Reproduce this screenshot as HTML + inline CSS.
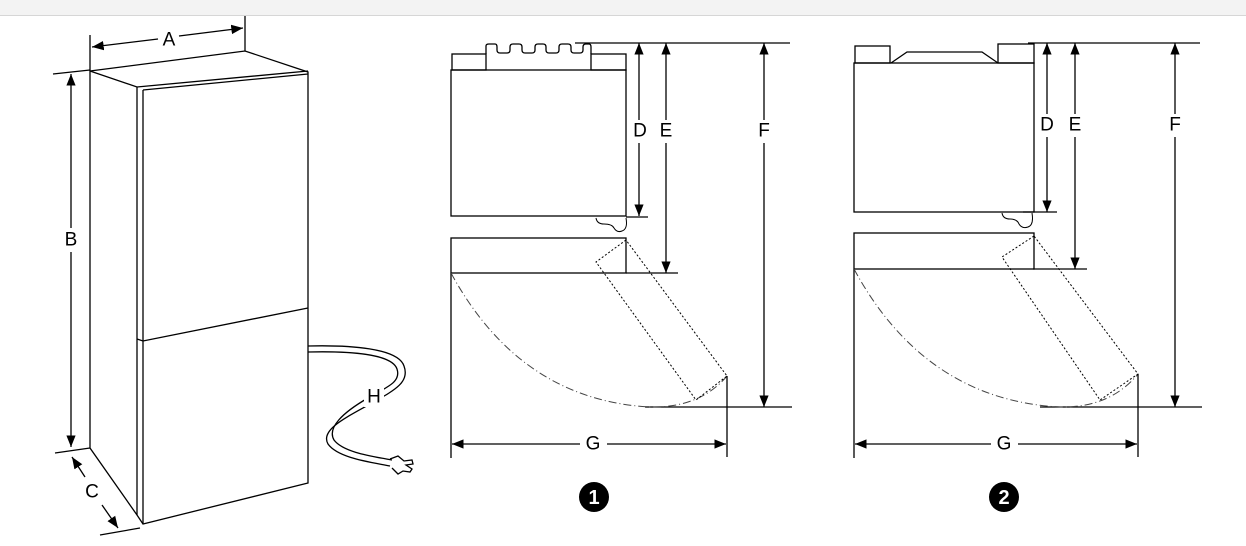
<!DOCTYPE html>
<html><head><style>
body{margin:0;background:#fff;width:1246px;height:546px;overflow:hidden}
svg{display:block}
text{font-family:"Liberation Sans",sans-serif;font-size:19px;fill:#000;text-anchor:middle;dominant-baseline:central}
</style></head><body>
<svg width="1246" height="546" viewBox="0 0 1246 546">
<defs>
<marker id="ar" viewBox="0 0 10 10" refX="10" refY="5" markerWidth="9" markerHeight="9" orient="auto-start-reverse"><path d="M0,1 L10,5 L0,9 Z" fill="#000"/></marker>
</defs>
<rect x="0" y="0" width="1246" height="15" fill="#f3f3f3"/>
<line x1="0" y1="15.5" x2="1246" y2="15.5" stroke="#d6d6d6"/>
<g stroke="#000" stroke-width="1.3" fill="none">
<!-- fridge -->
<path d="M90,71 L245,51 L308,72 L308,483 L143,524 L137,515 L90,448 Z" fill="#fff"/>
<path d="M90,71 L137,87 L308,71"/>
<path d="M143,90 L308,74"/>
<line x1="137" y1="87" x2="137" y2="515"/>
<line x1="143" y1="90" x2="143" y2="524"/>
<path d="M137,339 L143,341 L308,308"/>
<line x1="90" y1="35" x2="90" y2="71"/><line x1="245" y1="16" x2="245" y2="51"/>
<line x1="92" y1="47" x2="158" y2="39" marker-start="url(#ar)"/>
<line x1="179" y1="36" x2="243" y2="28" marker-end="url(#ar)"/>
<line x1="53" y1="74" x2="90" y2="70"/><line x1="55" y1="453" x2="90" y2="448"/>
<line x1="71" y1="74" x2="71" y2="228" marker-start="url(#ar)"/>
<line x1="71" y1="252" x2="71" y2="447" marker-end="url(#ar)"/>
<line x1="100" y1="535" x2="140" y2="528"/>
<line x1="85" y1="477" x2="72" y2="457" marker-end="url(#ar)"/>
<line x1="102" y1="505" x2="118" y2="528" marker-end="url(#ar)"/>
<!-- cord -->
<path d="M308,346 C350,345 398,348 404,366 C410,382 395,390 372,403 C345,418 320,430 328,444 C338,458 370,462 390,466"/>
<path d="M308,352 C350,351 392,354 397,369 C401,381 390,386 368,398 C342,413 327,428 334,440 C343,452 370,456 392,460"/>
<path d="M390,459 L398,456 L404,461 L412,460 L413,464 L406,465 L412,469 L410,472 L403,471 L398,474 L392,468"/>
<!-- diagram 1 -->
<rect x="451" y="70" width="175" height="146" fill="#fff"/>
<rect x="452" y="54" width="34" height="16"/><rect x="591" y="54" width="35" height="16"/>
<path d="M486,54 L486,46 Q486,44 489,44 L495,44 Q497,44 497,47 L497,50 Q497,53 500,53 L507,53 Q510,53 510,50 L510,47 Q510,44 513,44 L519,44 Q522,44 522,47 L522,50 Q522,53 525,53 L532,53 Q535,53 535,50 L535,47 Q535,44 538,44 L543,44 Q546,44 546,47 L546,50 Q546,53 549,53 L556,53 Q559,53 559,50 L559,47 Q559,44 562,44 L568,44 Q571,44 571,47 L571,50 Q571,53 574,53 L580,53 Q583,53 583,50 L583,47 Q583,44 586,44 L589,44 Q591,44 591,47 L591,54"/>
<path d="M596,218 Q597,224 604,224 Q612,224 614,228 Q617,233 622,231 Q628,229 626,218" stroke-width="1"/>
<line x1="575" y1="43" x2="790" y2="43"/>
<line x1="626" y1="217" x2="648" y2="217"/>
<line x1="626" y1="273" x2="678" y2="273"/>
<line x1="645" y1="407" x2="792" y2="407"/>
<line x1="639" y1="43" x2="639" y2="120" marker-start="url(#ar)"/><line x1="639" y1="143" x2="639" y2="216" marker-end="url(#ar)"/>
<line x1="666" y1="43" x2="666" y2="120" marker-start="url(#ar)"/><line x1="666" y1="143" x2="666" y2="273" marker-end="url(#ar)"/>
<line x1="764" y1="43" x2="764" y2="120" marker-start="url(#ar)"/><line x1="764" y1="143" x2="764" y2="407" marker-end="url(#ar)"/>
<rect x="451" y="238" width="175" height="35"/>
<line x1="451" y1="273" x2="451" y2="458"/>
<path d="M451,273 Q520,400 650,407 Q700,408 727,376" stroke-width="1" stroke-dasharray="8,3,1,3" stroke="#444"/>
<path d="M626,240 L596,262 L696,400 L727,376 Z" stroke-width="1" stroke-dasharray="2,2"/>
<line x1="727" y1="376" x2="727" y2="457"/>
<line x1="452" y1="444" x2="580" y2="444" marker-start="url(#ar)"/><line x1="607" y1="444" x2="726" y2="444" marker-end="url(#ar)"/>
<!-- diagram 2 -->
<rect x="854" y="63" width="180" height="149" fill="#fff"/>
<rect x="855" y="46" width="35" height="17"/><rect x="998" y="44" width="36" height="19"/>
<path d="M891,63 L907,52 L982,52 L998,63"/>
<path d="M1002,213 Q1003,219 1010,219 Q1017,219 1019,224 Q1022,229 1028,227 Q1034,225 1032,213" stroke-width="1"/>
<line x1="1028" y1="43" x2="1200" y2="43"/>
<line x1="1023" y1="212" x2="1057" y2="212"/>
<line x1="1033" y1="269" x2="1087" y2="269"/>
<line x1="1040" y1="407" x2="1202" y2="407"/>
<line x1="1047" y1="43" x2="1047" y2="114" marker-start="url(#ar)"/><line x1="1047" y1="137" x2="1047" y2="212" marker-end="url(#ar)"/>
<line x1="1075" y1="43" x2="1075" y2="114" marker-start="url(#ar)"/><line x1="1075" y1="137" x2="1075" y2="269" marker-end="url(#ar)"/>
<line x1="1175" y1="43" x2="1175" y2="114" marker-start="url(#ar)"/><line x1="1175" y1="137" x2="1175" y2="407" marker-end="url(#ar)"/>
<rect x="854" y="233" width="180" height="36"/>
<line x1="854" y1="269" x2="854" y2="458"/>
<path d="M854,269 Q925,400 1060,407 Q1110,408 1138,374" stroke-width="1" stroke-dasharray="8,3,1,3" stroke="#444"/>
<path d="M1034,236 L1002,257 L1100,400 L1138,374 Z" stroke-width="1" stroke-dasharray="2,2"/>
<line x1="1138" y1="374" x2="1138" y2="457"/>
<line x1="855" y1="444" x2="991" y2="444" marker-start="url(#ar)"/><line x1="1018" y1="444" x2="1137" y2="444" marker-end="url(#ar)"/>
</g>
<g fill="#fff"><rect x="160" y="31" width="18" height="18"/><rect x="62" y="230" width="18" height="20"/><rect x="82" y="482" width="20" height="20"/><rect x="364" y="387" width="20" height="20"/></g>
<text x="169" y="40">A</text><text x="71" y="240">B</text><text x="92" y="492">C</text><text x="374" y="397">H</text>
<text x="640" y="131">D</text><text x="666" y="131">E</text><text x="764" y="131">F</text><text x="593" y="444">G</text>
<text x="1047" y="125">D</text><text x="1075" y="125">E</text><text x="1175" y="125">F</text><text x="1004" y="444">G</text>
<circle cx="594" cy="497" r="15" fill="#000"/><text x="594" y="498" style="fill:#fff;font-weight:bold;font-size:20px">1</text>
<circle cx="1004" cy="497" r="15" fill="#000"/><text x="1004" y="498" style="fill:#fff;font-weight:bold;font-size:20px">2</text>
</svg>
</body></html>
